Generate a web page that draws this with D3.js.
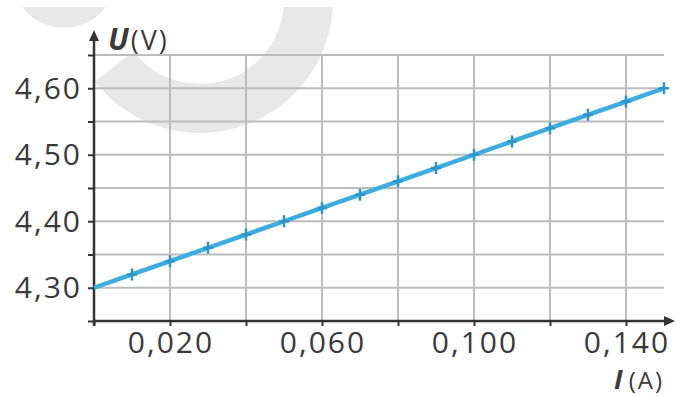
<!DOCTYPE html>
<html>
<head>
<meta charset="utf-8">
<script src="https://cdn.jsdelivr.net/npm/d3@7"></script>
<style>
  body { margin: 0; background: #fff; }
  svg text { font-family: "Open Sans", sans-serif; fill: #3a3a3a; }
</style>
</head>
<body>
<div id="chart"></div>
<script>
// measured points I (A) -> U (V)
var current = [0, 0.010, 0.020, 0.030, 0.040, 0.050, 0.060, 0.070, 0.080, 0.090, 0.100, 0.110, 0.120, 0.130, 0.140, 0.150];
var voltage = [4.30, 4.32, 4.34, 4.36, 4.38, 4.40, 4.42, 4.44, 4.46, 4.48, 4.50, 4.52, 4.54, 4.56, 4.58, 4.60];
var markerIdx = [1, 2, 3, 4, 5, 6, 7, 8, 9, 10, 11, 12, 13, 14, 15]; // points drawn with a cross
var xTicks = [0, 0.020, 0.040, 0.060, 0.080, 0.100, 0.120, 0.140];
var xLabels = [0.020, 0.060, 0.100, 0.140];
var yTicks = [4.25, 4.30, 4.35, 4.40, 4.45, 4.50, 4.55, 4.60, 4.65];
var yLabels = [4.30, 4.40, 4.50, 4.60];

function init() {
    var w = 686, h = 396;
    var svg = d3.select("#chart").append("svg")
                .attr("width", w)
                .attr("height", h);

    var xScale = d3.scaleLinear().domain([0, 0.150]).range([94, 664]);
    var yScale = d3.scaleLinear().domain([4.25, 4.65]).range([321, 55]);

    var fmtX = function(d) { return d3.format(".3f")(d).replace(".", ","); };
    var fmtY = function(d) { return d3.format(".2f")(d).replace(".", ","); };

    // faded logo in the background
    var wm = svg.append("g").attr("fill", "#e8e8e8");
    wm.append("clipPath").attr("id", "clipTop")
      .append("rect").attr("x", 0).attr("y", 7).attr("width", w).attr("height", h);
    var g = wm.append("g").attr("clip-path", "url(#clipTop)");
    g.append("path")
     .attr("transform", "translate(200,0)")
     .attr("d", d3.arc().innerRadius(84).outerRadius(133)
                  .startAngle(Math.PI / 2 - 0.1).endAngle(Math.PI * 1.29)());
    g.append("ellipse").attr("cx", 64).attr("cy", -24).attr("rx", 52).attr("ry", 52);

    // grid
    var x0 = xScale(0), x1 = xScale(0.150), y0 = yScale(4.25), y1 = yScale(4.65);
    svg.append("g").selectAll("line")
       .data(yTicks.filter(function(d) { return d > 4.25; }))
       .enter().append("line")
       .attr("x1", x0).attr("x2", x1)
       .attr("y1", function(d) { return yScale(d); })
       .attr("y2", function(d) { return yScale(d); })
       .attr("stroke", "#bcbcbc").attr("stroke-width", 2);
    svg.append("g").selectAll("line")
       .data(xTicks.filter(function(d) { return d > 0; }))
       .enter().append("line")
       .attr("x1", function(d) { return xScale(d); })
       .attr("x2", function(d) { return xScale(d); })
       .attr("y1", y1).attr("y2", y0)
       .attr("stroke", "#bcbcbc").attr("stroke-width", 2);

    // X axis
    var xAxis = svg.append("g")
       .attr("transform", "translate(0," + y0 + ")")
       .call(d3.axisBottom(xScale).tickValues(xTicks).tickSize(5).tickFormat(""));
    xAxis.select(".domain").remove();
    xAxis.selectAll("line").attr("stroke", "#333").attr("stroke-width", 2);
    xAxis.append("line")
       .attr("x1", x0 - 1).attr("x2", 666)
       .attr("stroke", "#333").attr("stroke-width", 2.5);
    xAxis.append("path")
       .attr("d", "M664,-5 L675,0 L664,5 Z")
       .attr("fill", "#333");

    // Y axis
    var yAxis = svg.append("g")
       .attr("transform", "translate(" + x0 + ",0)")
       .call(d3.axisLeft(yScale).tickValues(yTicks).tickSize(6).tickFormat(""));
    yAxis.select(".domain").remove();
    yAxis.selectAll("line").attr("stroke", "#333").attr("stroke-width", 2);
    yAxis.append("line")
       .attr("y1", y0 + 5).attr("y2", 38)
       .attr("stroke", "#333").attr("stroke-width", 2.5);
    yAxis.append("path")
       .attr("d", "M-5,41 L0,30 L5,41 Z")
       .attr("fill", "#333");

    // tick labels
    svg.append("g").selectAll("text")
       .data(yLabels).enter().append("text")
       .attr("x", 82)
       .attr("y", function(d) { return yScale(d) + 10.5; })
       .attr("text-anchor", "end")
       .attr("font-size", 30)
       .attr("letter-spacing", "2px")
       .text(fmtY);
    svg.append("g").selectAll("text")
       .data(xLabels).enter().append("text")
       .attr("x", function(d) { return xScale(d) + 1; })
       .attr("y", 353)
       .attr("text-anchor", "middle")
       .attr("font-size", 30)
       .attr("letter-spacing", "2px")
       .text(fmtX);

    // axis titles
    var ut = svg.append("text").attr("x", 108).attr("y", 50)
                .attr("font-size", 27).attr("letter-spacing", "2px");
    ut.append("tspan").attr("font-weight", "bold").attr("font-style", "italic")
      .attr("font-size", 30).text("U");
    ut.append("tspan").attr("dx", 0).text("(V)");
    var it = svg.append("text").attr("x", 664).attr("y", 389)
                .attr("font-size", 24).attr("letter-spacing", "2px")
                .attr("text-anchor", "end");
    it.append("tspan").attr("font-weight", "bold").attr("font-style", "italic")
      .attr("font-size", 27).text("I");
    it.append("tspan").attr("dx", 4).text("(A)");

    // line and points
    var pts = current.map(function(c, i) { return [c, voltage[i]]; });
    var line = d3.line()
                 .x(function(d) { return xScale(d[0]); })
                 .y(function(d) { return yScale(d[1]); });
    svg.append("path")
       .datum(pts)
       .attr("d", line)
       .attr("fill", "none")
       .attr("stroke", "#3cadde")
       .attr("stroke-width", 4.5);

    svg.append("g").selectAll("path")
       .data(markerIdx.map(function(i) { return pts[i]; }))
       .enter().append("path")
       .attr("transform", function(d) { return "translate(" + xScale(d[0]) + "," + yScale(d[1]) + ")"; })
       .attr("d", "M-5,0 L5,0 M0,-6 L0,6")
       .attr("stroke", "#2a96c9")
       .attr("stroke-width", 2.5);
}

window.onload = init;
</script>
</body>
</html>
